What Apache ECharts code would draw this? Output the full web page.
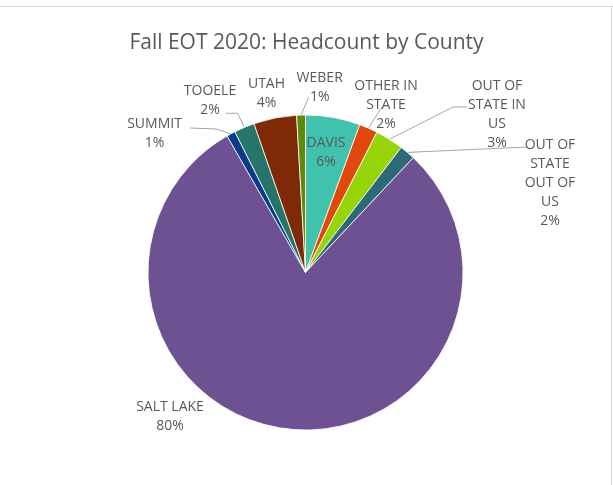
<!DOCTYPE html>
<html>
<head>
<meta charset="utf-8">
<script src="https://cdn.jsdelivr.net/npm/echarts@6/dist/echarts.min.js"></script>
<style>
  html, body { margin: 0; padding: 0; background: #fff; }
  #chart { width: 613px; height: 485px; }
</style>
</head>
<body>
<div id="chart"></div>
<script>
// ---- data ----
const categories = ['DAVIS', 'OTHER IN STATE', 'OUT OF STATE IN US', 'OUT OF STATE OUT OF US',
                    'SALT LAKE', 'SUMMIT', 'TOOELE', 'UTAH', 'WEBER'];
const shares = [5.6, 1.9, 2.9, 1.6, 79.7, 0.9, 2.1, 4.4, 0.9];
const labelTexts = ['DAVIS', 'OTHER IN\nSTATE', 'OUT OF\nSTATE IN\nUS', 'OUT OF\nSTATE\nOUT OF\nUS',
                    'SALT LAKE', 'SUMMIT', 'TOOELE', 'UTAH', 'WEBER'];

// ---- styles ----
const colors = ['#41C2AC', '#E0480C', '#97D40A', '#2C6A78', '#6E5193', '#0A3A8A', '#25756A', '#7F2A06', '#5E8A0C'];
// label block centers and leader-line elbows (layout only)
const labelPlace = [
  { x: 326, y: 152.5, line: null },
  { x: 386, y: 105, line: [[382, 107]] },
  { x: 497, y: 115, line: [[453, 107], [467, 107]] },
  { x: 550, y: 183, line: [[527, 147]] },
  { x: 170, y: 417, line: null },
  { x: 154.5, y: 133.5, line: [[216, 129], [190, 128]] },
  { x: 210, y: 101, line: [[237.7, 113.3], [226, 113.3]] },
  { x: 266.5, y: 93.5, line: null },
  { x: 319.7, y: 87.5, line: [[308.7, 97.3]] }
];

const total = shares.reduce((a, b) => a + b, 0);

const chart = echarts.init(document.getElementById('chart'), null, { renderer: 'canvas' });
chart.setOption({
  animation: false,
  backgroundColor: '#ffffff',
  title: {
    text: 'Fall EOT 2020: Headcount by County',
    left: 'center',
    top: 28,
    textStyle: { fontFamily: 'Open Sans', fontSize: 21, fontWeight: 'normal', color: '#595959' }
  },
  graphic: [
    { type: 'line', shape: { x1: 0, y1: 6.5, x2: 613, y2: 6.5 }, style: { stroke: '#D9D9D9', lineWidth: 1 } },
    { type: 'line', shape: { x1: 611.5, y1: 6.5, x2: 611.5, y2: 485 }, style: { stroke: '#D9D9D9', lineWidth: 1 } }
  ],
  series: [{
    type: 'pie',
    center: [305.5, 272.5],
    radius: 157.5,
    startAngle: 90,
    clockwise: true,
    avoidLabelOverlap: false,
    itemStyle: { borderColor: '#ffffff', borderWidth: 0.8 },
    label: {
      show: true,
      position: 'outside',
      fontFamily: 'Open Sans',
      fontSize: 14,
      lineHeight: 19,
      color: '#595959',
      align: 'center',
      formatter: function (p) {
        return labelTexts[p.dataIndex] + '\n' + Math.round(p.value / total * 100) + '%';
      }
    },
    labelLine: { show: true, lineStyle: { color: '#A6A6A6', width: 1 } },
    labelLayout: function (p) {
      const L = labelPlace[p.dataIndex];
      const out = { x: L.x, y: L.y, align: 'center', verticalAlign: 'middle' };
      if (L.line && p.labelLinePoints) {
        out.labelLinePoints = [p.labelLinePoints[0]].concat(L.line);
      }
      return out;
    },
    emphasis: { disabled: true },
    data: categories.map((c, i) => ({
      name: c,
      value: shares[i],
      itemStyle: { color: colors[i] },
      labelLine: { show: !!labelPlace[i].line }
    }))
  }]
});
</script>
</body>
</html>
